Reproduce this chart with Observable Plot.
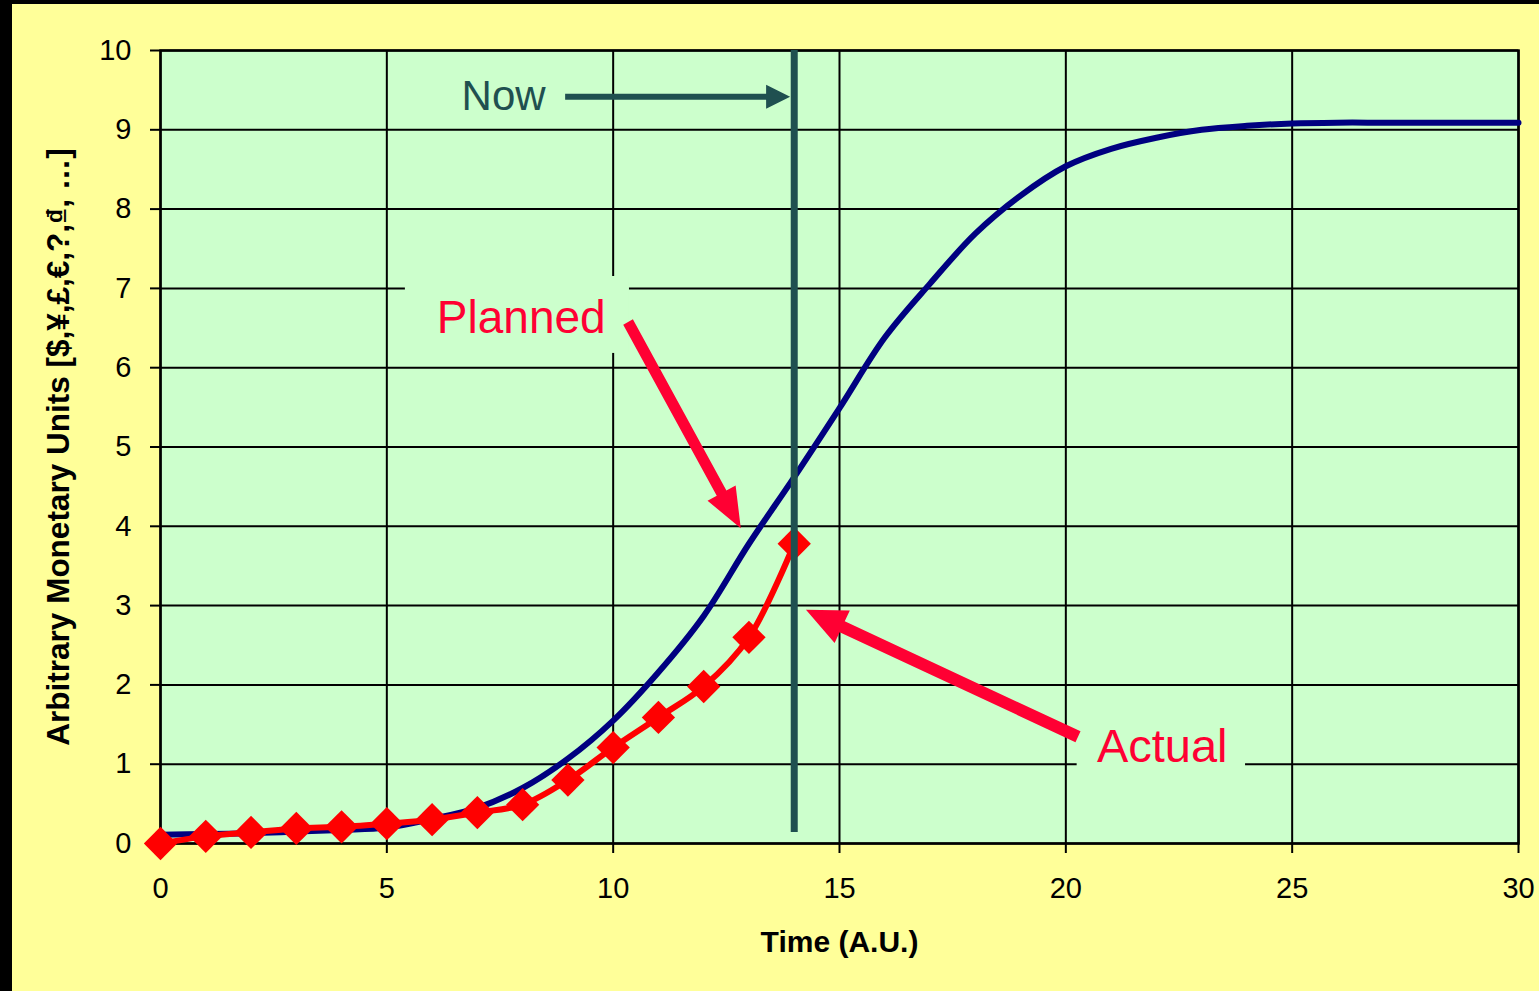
<!DOCTYPE html>
<html><head><meta charset="utf-8">
<script src="https://cdn.jsdelivr.net/npm/d3@7"></script>
<script src="https://cdn.jsdelivr.net/npm/@observablehq/plot@0.6"></script>
<style>
html,body{margin:0;padding:0;background:#000;width:1539px;height:991px;overflow:hidden;}
#wrap{position:absolute;left:12px;top:4px;width:1527px;height:987px;background:#FFFF99;}
</style></head><body><div id="wrap"></div>
<script>
// ---- data ----
const plannedTime  = [0,1,2,3,4,5,6,7,8,9,10,11,12,13,14,15,16,17,18,19,20,21,22,23,24,25,26,27,28,29,30];
const plannedValue = [0.11,0.12,0.13,0.15,0.17,0.20,0.31,0.45,0.70,1.07,1.55,2.16,2.87,3.78,4.62,5.49,6.38,7.06,7.69,8.17,8.54,8.76,8.90,9.00,9.05,9.08,9.09,9.09,9.09,9.09,9.09];
const actualTime   = [0,1,2,3,4,5,6,7,8,9,10,11,12,13,14];
const actualValue  = [0.00,0.09,0.14,0.19,0.21,0.25,0.30,0.39,0.49,0.80,1.21,1.59,1.98,2.60,3.78];
const xTicks = [0,5,10,15,20,25,30];
const yTicks = [0,1,2,3,4,5,6,7,8,9,10];
const nowTime = 14;
const xLabel = "Time (A.U.)";
const yLabel = "Arbitrary Monetary Units [$,¥,£,€,?,₫, …]";
// annotations (data coordinates)
const labelNames = ["Now", "Planned", "Actual"];
const labelX = [7.58, 7.97, 22.13];
const labelY = [9.42, 6.62, 1.22];
const boxNames = ["Planned", "Actual"];
const boxX1 = [5.41, 20.25];
const boxX2 = [10.36, 23.97];
const boxY1 = [6.18, 0.62];
const boxY2 = [7.15, 1.62];
const arrowNames = ["Now", "Planned", "Actual"];
const arrowX1 = [8.95, 10.34, 20.28];
const arrowY1 = [9.41, 6.57, 1.34];
const arrowX2 = [13.92, 12.83, 14.27];
const arrowY2 = [9.41, 3.97, 2.94];

// ---- styles ----
const teal = "#1F5050", red = "#FF0033";
const labelStyle = {Now: {fill: teal, size: 42}, Planned: {fill: red, size: 46}, Actual: {fill: red, size: 47}};
const arrowStyle = {
  Now: {color: teal, shaft: 6, head: 24, headWidth: 24},
  Planned: {color: red, shaft: 11, head: 40, headWidth: 32},
  Actual: {color: red, shaft: 12, head: 40, headWidth: 36}
};

const planned = plannedTime.map((t, i) => ({t, v: plannedValue[i]}));
const actual = actualTime.map((t, i) => ({t, v: actualValue[i]}));
const labels = labelNames.map((n, i) => ({n, x: labelX[i], y: labelY[i]}));
const boxes = boxNames.map((n, i) => ({n, x1: boxX1[i], x2: boxX2[i], y1: boxY1[i], y2: boxY2[i]}));
const arrows = arrowNames.map((n, i) => ({n, x1: arrowX1[i], y1: arrowY1[i], x2: arrowX2[i], y2: arrowY2[i]}));

function arrowMark(list) {
  return (index, scales) => {
    const g = d3.create("svg:g");
    for (const a of list) {
      const s = arrowStyle[a.n];
      const x1 = scales.x(a.x1), y1 = scales.y(a.y1), x2 = scales.x(a.x2), y2 = scales.y(a.y2);
      const dx = x2 - x1, dy = y2 - y1, L = Math.hypot(dx, dy);
      const ux = dx / L, uy = dy / L, nx = -uy, ny = ux;
      const bx = x2 - ux * s.head, by = y2 - uy * s.head;
      const w = s.shaft / 2, hw = s.headWidth / 2;
      const pts = [[x1 + nx*w, y1 + ny*w], [bx + nx*w, by + ny*w], [bx + nx*hw, by + ny*hw], [x2, y2],
                   [bx - nx*hw, by - ny*hw], [bx - nx*w, by - ny*w], [x1 - nx*w, y1 - ny*w]];
      g.append("path").attr("d", "M" + pts.map(p => p.join(",")).join("L") + "Z").attr("fill", s.color);
    }
    return g.node();
  };
}

const font = "'Liberation Sans', Arial, Helvetica, sans-serif";
const chart = Plot.plot({
  width: 1527, height: 987,
  marginLeft: 148, marginRight: 21, marginTop: 46, marginBottom: 148,
  style: {background: "transparent", fontFamily: font, color: "black", overflow: "visible"},
  x: {domain: [0, 30]},
  y: {domain: [0, 10]},
  marks: [
    Plot.frame({fill: "#CCFFCC"}),
    Plot.gridX(xTicks, {stroke: "black", strokeOpacity: 1, strokeWidth: 2}),
    Plot.gridY(yTicks, {stroke: "black", strokeOpacity: 1, strokeWidth: 2}),
    Plot.rect(boxes, {x1: "x1", x2: "x2", y1: "y1", y2: "y2", fill: "#CCFFCC"}),
    Plot.frame({stroke: "black", strokeWidth: 2.5}),
    Plot.axisX({ticks: xTicks, tickSize: 10, tickPadding: 24, fontSize: 29, strokeWidth: 2, label: null}),
    Plot.axisY({ticks: yTicks, tickSize: 10, tickPadding: 19, fontSize: 29, strokeWidth: 2, label: null}),
    Plot.text([xLabel], {frameAnchor: "bottom", dy: 99, fontSize: 30, fontWeight: "bold", lineAnchor: "middle", textAnchor: "middle"}),
    Plot.text([yLabel], {frameAnchor: "left", dx: -102, rotate: -90, fontSize: 31.5, fontWeight: "bold", lineAnchor: "middle", textAnchor: "middle"}),
    Plot.line(planned, {x: "t", y: "v", stroke: "#000080", strokeWidth: 6, curve: "catmull-rom"}),
    Plot.line(actual, {x: "t", y: "v", stroke: "#FF0000", strokeWidth: 6, curve: "catmull-rom"}),
    Plot.dot(actual, {x: "t", y: "v", symbol: "diamond2", r: 15, fill: "#FF0000", stroke: "none"}),
    Plot.ruleX([nowTime], {y1: 0.14, y2: 10, stroke: teal, strokeWidth: 7}),
    arrowMark(arrows),
    Plot.text(labels, {x: "x", y: "y", text: "n", fill: d => labelStyle[d.n].fill, fontSize: d => labelStyle[d.n].size, lineAnchor: "middle", textAnchor: "middle"})
  ]
});
document.getElementById("wrap").appendChild(chart);
</script>
</body></html>
